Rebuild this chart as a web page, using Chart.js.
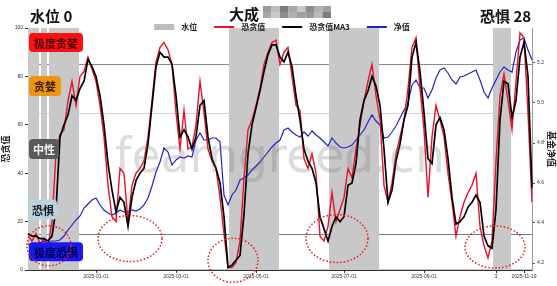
<!DOCTYPE html>
<html>
<head>
<meta charset="utf-8">
<script src="https://cdn.jsdelivr.net/npm/chart.js@4.4.1/dist/chart.umd.min.js"></script>
<style>
  html, body { margin: 0; padding: 0; background: #fff; }
  #wrap { width: 557px; height: 286px; position: relative; }
</style>
</head>
<body>
<div id="wrap"><canvas id="chart"></canvas></div>
<script>
// ---------- DATA ----------
const categories = [];
const startDay = Date.UTC(2024, 10, 10);
for (let i = 0; i < 127; i++) {
  categories.push(new Date(startDay + i * 3 * 86400000).toISOString().slice(0, 10));
}

// 恐贪值
const fearGreed = [14,12,15,11,13,10,20,48,56,58,70,78,68,80,82,88,83,78,68,55,35,22,20,42,40,20,35,40,42,45,
  55,70,86,92,94,91,85,65,50,66,50,51,60,78,65,50,45,42,30,15,1,1,3,12,38,58,62,68,75,85,
  90,94,95,85,90,92,80,68,66,46,42,48,40,14,12,18,32,20,25,30,42,38,50,60,70,78,85,72,62,35,
  28,36,48,55,62,75,92,96,75,58,30,55,68,62,55,40,28,14,22,28,32,35,40,18,10,5,12,45,72,81,
  70,58,78,98,96,65,28];

// 恐贪值MA3
const fearGreedMA3 = [15,14,14,13,13,12,14,25,55,60,64,72,70,75,78,87,84,80,72,60,44,33,24,30,28,18,30,37,40,42,
  52,68,84,90,88,88,85,72,55,58,55,50,55,68,70,55,46,42,36,22,1,2,4,6,23,48,60,67,74,82,
  89,93,93,88,86,90,84,72,62,50,45,42,36,22,17,12,18,22,20,22,35,36,44,62,70,74,80,76,68,50,
  28,33,45,52,62,68,88,94,82,65,46,44,60,63,58,46,30,19,20,22,26,28,31,28,14,10,9,25,62,78,
  77,63,70,88,94,80,34];

// 净值 (right axis)
const netValue = [4.29,4.30,4.29,4.30,4.31,4.30,4.31,4.31,4.315,4.335,4.365,4.39,4.415,4.435,4.475,4.495,4.515,4.525,4.49,4.465,
  4.45,4.44,4.45,4.465,4.455,4.455,4.465,4.46,4.47,4.49,4.525,4.585,4.655,4.705,4.775,4.755,4.69,4.715,4.73,4.725,
  4.735,4.73,4.815,4.85,4.815,4.815,4.825,4.825,4.805,4.54,4.49,4.54,4.565,4.615,4.625,4.64,4.665,4.685,4.705,4.73,
  4.755,4.78,4.80,4.815,4.865,4.875,4.855,4.84,4.83,4.855,4.835,4.86,4.84,4.825,4.805,4.785,4.825,4.80,4.78,4.775,
  4.78,4.79,4.815,4.84,4.865,4.905,4.94,4.91,4.89,4.825,4.83,4.855,4.885,4.925,4.965,5.00,5.09,5.115,5.075,5.075,
  5.025,5.065,5.125,5.165,5.175,5.15,5.115,5.095,5.13,5.135,5.145,5.155,5.165,5.115,5.055,5.025,5.075,5.115,5.155,5.18,
  5.165,5.155,5.255,5.315,5.325,5.265,5.215];

// 水位 (shaded periods)
const waterLevel = [100,100,100,0,100,0,100,100,100,100,100,100,100,0,0,0,0,0,0,0,
  0,0,0,0,0,0,0,0,0,0,0,0,0,0,0,0,0,0,0,0,
  0,0,0,0,0,0,0,0,0,0,0,100,100,100,100,100,100,100,100,100,
  100,100,100,0,0,0,0,0,0,0,0,0,0,0,0,0,100,100,100,100,
  100,100,100,100,100,100,100,100,0,0,0,0,0,0,0,0,0,0,0,0,
  0,0,0,0,0,0,0,0,0,0,0,0,0,0,0,0,0,100,100,100,
  100,0,0,0,0,0,0];

const leftTicks = [0, 20, 40, 60, 80, 100];
const rightTicks = [4.2, 4.4, 4.6, 4.8, 5.0, 5.2];
const tickIndex = [17, 37, 57, 79, 99, 117, 124];
const tickText = ["2025-01-01", "2025-03-01", "2025-05-01", "2025-07-01", "2025-09-01", "3", "2025-11-19"];

const thresholds = [85, 65, 15];
const thresholdColors = ["#8a8a8a", "#d4d4d4", "#7a7a7a"];

const zoneNames = ["极度贪婪", "贪婪", "中性", "恐惧", "极度恐惧"];
const zoneCenters = [94, 76, 50, 25, 7.5];
const zoneFill = ["#ff1010", "#f0940e", "#5a5a5a", "#b9d3df", "#1818f0"];
const zoneText = ["#4a0000", "#3a2000", "#f2f2f2", "#1a1a1a", "#000040"];
const zoneWidth = [54, 32, 30, 28, 54];

// dotted circles: [index, value, rx, ry]
const circleMarks = [[5.25, 10, 22, 20], [25.5, 13, 32, 23], [51.25, 4, 25, 22], [77.25, 13, 31, 24], [116.75, 9.5, 30, 21]];

const waterNow = 0;
const moodNow = "恐惧";
const fearNow = 28;
const fundName = "大成";

const CJK = '"Noto Sans CJK SC", "Noto Sans", sans-serif';

// ---------- DECORATION PLUGIN ----------
const decor = {
  id: "decor",
  beforeDatasetsDraw(chart) {
    const { ctx, chartArea: a, scales } = chart;
    ctx.save();
    thresholds.forEach((t, k) => {
      const y = Math.round(scales.y.getPixelForValue(t)) + 0.5;
      ctx.strokeStyle = thresholdColors[k];
      ctx.lineWidth = 1;
      ctx.beginPath();
      ctx.moveTo(a.left, y);
      ctx.lineTo(a.right, y);
      ctx.stroke();
    });
    ctx.restore();
  },
  afterDatasetsDraw(chart) {
    const { ctx, scales } = chart;
    const x = scales.x, y = scales.y;
    ctx.save();

    // watermark
    let size = 48;
    ctx.font = size + 'px "DejaVu Sans", sans-serif';
    size = size * 330 / ctx.measureText("fearngreed.cn").width;
    ctx.font = size + 'px "DejaVu Sans", sans-serif';
    ctx.fillStyle = "rgba(110,110,110,0.24)";
    ctx.textBaseline = "alphabetic";
    ctx.fillText("fearngreed.cn", 115, 172);

    // zone label boxes
    zoneNames.forEach((name, k) => {
      const cy = y.getPixelForValue(zoneCenters[k]);
      const h = k === 0 || k === 4 ? 19 : 20;
      const left = 29;
      ctx.fillStyle = zoneFill[k];
      ctx.beginPath();
      ctx.roundRect(left, cy - h / 2, zoneWidth[k], h, 4);
      ctx.fill();
      ctx.fillStyle = zoneText[k];
      ctx.font = "bold 11px " + CJK;
      ctx.textAlign = "center";
      ctx.textBaseline = "middle";
      ctx.fillText(name, left + zoneWidth[k] / 2, cy + 1);
    });

    // dotted circles
    ctx.strokeStyle = "#e81818";
    ctx.lineWidth = 1.5;
    ctx.setLineDash([1.5, 2]);
    circleMarks.forEach(m => {
      ctx.beginPath();
      ctx.ellipse(x.getPixelForValue(m[0]), y.getPixelForValue(m[1]), m[2], m[3], 0, 0, Math.PI * 2);
      ctx.stroke();
    });
    ctx.restore();
  },
  afterDraw(chart) {
    const { ctx } = chart;
    ctx.save();
    ctx.textBaseline = "alphabetic";
    ctx.fillStyle = "#111";
    ctx.font = "bold 15px " + CJK;
    ctx.textAlign = "left";
    ctx.fillText("水位 " + waterNow, 30, 22);
    ctx.fillText(fundName, 229, 20);
    ctx.fillText(moodNow + " " + fearNow, 480, 22);

    // blurred fund name
    const blocks = ["#9a9a9a", "#bdbdbd", "#7d7d7d", "#a8a8a8", "#c8c8c8", "#8c8c8c", "#b0b0b0", "#9e9e9e"];
    blocks.forEach((c, k) => {
      ctx.fillStyle = c;
      ctx.fillRect(263 + k * 8.5, 6, 8.5, 6);
      ctx.fillStyle = blocks[(k + 3) % blocks.length];
      ctx.fillRect(263 + k * 8.5, 12, 8.5, 6);
    });

    // legend
    ctx.font = "bold 8px " + CJK;
    const items = chart.data.datasets.map(ds => ({
      label: ds.label, color: ds.type === "bar" ? "#bdbdbd" : ds.borderColor, bar: ds.type === "bar"
    }));
    const mk = 20, gap = 7, spacing = 17;
    let total = 0;
    items.forEach(it => { it.w = ctx.measureText(it.label).width; total += mk + gap + it.w; });
    total += spacing * (items.length - 1);
    let lx = 282 - total / 2;
    const ly = 27;
    items.forEach(it => {
      if (it.bar) {
        ctx.fillStyle = it.color;
        ctx.fillRect(lx, ly - 3, mk, 6);
      } else {
        ctx.strokeStyle = it.color;
        ctx.lineWidth = 2;
        ctx.beginPath();
        ctx.moveTo(lx, ly);
        ctx.lineTo(lx + mk, ly);
        ctx.stroke();
      }
      ctx.fillStyle = "#222";
      ctx.textBaseline = "middle";
      ctx.fillText(it.label, lx + mk + gap, ly);
      lx += mk + gap + it.w + spacing;
    });
    ctx.restore();
  }
};

// ---------- CHART ----------
new Chart(document.getElementById("chart"), {
  type: "line",
  data: {
    labels: categories,
    datasets: [
      {
        type: "bar", label: "水位", data: waterLevel, yAxisID: "y",
        backgroundColor: "rgb(200,200,200)", borderWidth: 0, inflateAmount: 1,
        barPercentage: 1, categoryPercentage: 1, order: 10
      },
      {
        type: "line", label: "恐贪值", data: fearGreed, yAxisID: "y",
        borderColor: "#e8102a", borderWidth: 1.4, pointRadius: 0, tension: 0, order: 2
      },
      {
        type: "line", label: "恐贪值MA3", data: fearGreedMA3, yAxisID: "y",
        borderColor: "#000000", borderWidth: 1.7, pointRadius: 0, tension: 0, order: 1
      },
      {
        type: "line", label: "净值", data: netValue, yAxisID: "y1",
        borderColor: "#2222cc", borderWidth: 1.2, pointRadius: 0, tension: 0, order: 3
      }
    ]
  },
  options: {
    responsive: true,
    maintainAspectRatio: false,
    animation: false,
    layout: { padding: { top: 28, left: 0, right: 0, bottom: 0 } },
    plugins: { legend: { display: false }, tooltip: { enabled: false } },
    scales: {
      x: {
        type: "category",
        offset: false,
        grid: {
          offset: false, drawOnChartArea: false, tickLength: 3,
          color: c => tickIndex.includes(c.index) ? "#333" : "rgba(0,0,0,0)"
        },
        border: { color: "#333", width: 1 },
        ticks: {
          autoSkip: false, maxRotation: 0, minRotation: 0, padding: 1,
          font: { size: 5 }, color: "#333",
          callback: (v, i) => { const k = tickIndex.indexOf(i); return k >= 0 ? tickText[k] : ""; }
        },
        afterFit: s => { s.height = 16; }
      },
      y: {
        position: "left", min: 0, max: 100,
        grid: { drawOnChartArea: false, tickLength: 3, color: "#333" },
        border: { color: "#333", width: 1 },
        ticks: { font: { size: 5 }, color: "#333", padding: 2 },
        afterBuildTicks: s => { s.ticks = leftTicks.map(v => ({ value: v })); },
        title: { display: true, text: "恐贪值", font: { size: 9, family: CJK, weight: "bold" }, color: "#222", padding: 0 },
        afterFit: s => { s.width = 28; }
      },
      y1: {
        position: "right", min: 4.165, max: 5.375,
        grid: { drawOnChartArea: false, tickLength: 3, color: "#555" },
        border: { color: "#999", width: 1 },
        ticks: { font: { size: 5 }, color: "#333", padding: 2, callback: v => Number(v).toFixed(1) },
        afterBuildTicks: s => { s.ticks = rightTicks.map(v => ({ value: v })); },
        title: { display: true, text: "基金净值", font: { size: 9, family: CJK, weight: "bold" }, color: "#222", padding: 0 },
        afterFit: s => { s.width = 25; }
      }
    }
  },
  plugins: [decor]
});
</script>
</body>
</html>
